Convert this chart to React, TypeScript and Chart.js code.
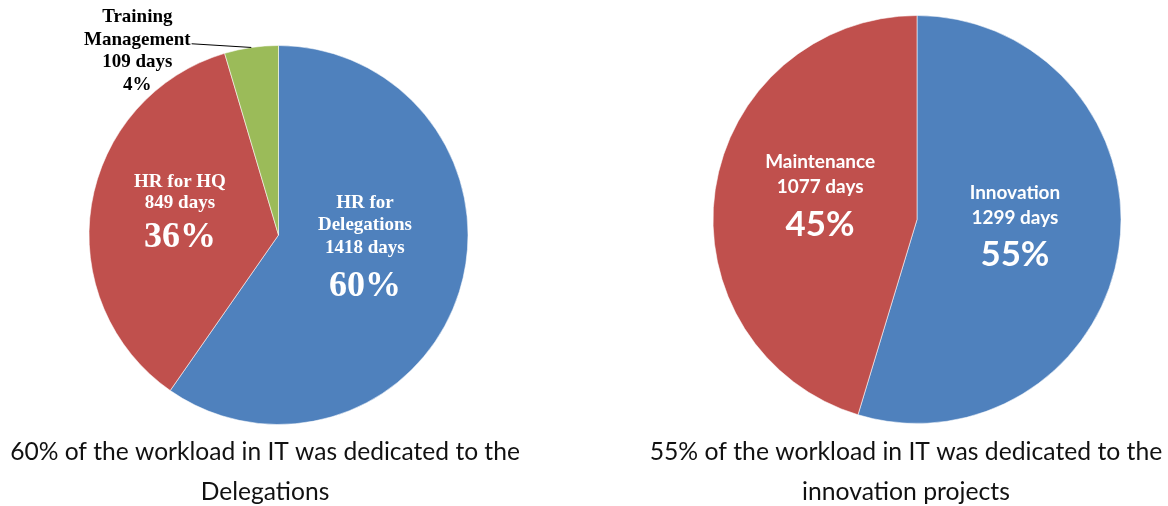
import React, { useEffect, useRef } from "react";
import { Chart, registerables } from "chart.js";

Chart.register(...registerables);

// ---------- data ----------
const leftCategories = ["HR for Delegations", "HR for HQ", "Training Management"];
const leftNameLines = [["HR for", "Delegations"], ["HR for HQ"], ["Training", "Management"]];
const leftDays = [1418, 849, 109];
const leftPercents = ["60%", "36%", "4%"];
const leftColors = ["#4F81BD", "#C0504D", "#9BBB59"];

const rightCategories = ["Innovation", "Maintenance"];
const rightNameLines = [["Innovation"], ["Maintenance"]];
const rightDays = [1299, 1077];
const rightPercents = ["55%", "45%"];
const rightColors = ["#4F81BD", "#C0504D"];

const leftCaption = ["60% of the workload in IT was dedicated to the", "Delegations"];
const rightCaption = ["55% of the workload in IT was dedicated to the", "innovation projects"];

// ---------- styles ----------
type SliceLabelStyle = {
  dx: number; // anchor offset, in units of radius
  dy: number;
  lineGap: number;
  bigGap: number;
  bigPercent: boolean;
  color: string;
  leaderLine?: number;
};

type PieSpec = {
  names: string[][];
  days: number[];
  percents: string[];
  family: string;
  smallSize: number | { text: string; width: number };
  bigSize: number | { text: string; width: number };
  slices: SliceLabelStyle[];
  caption: string[];
  captionX: number;
  captionY: number[];
  captionWidth: number;
};

function resolveSize(ctx: CanvasRenderingContext2D, weight: string, family: string, s: number | { text: string; width: number }) {
  if (typeof s === "number") return s;
  ctx.font = `${weight} 100px ${family}`;
  const w = ctx.measureText(s.text).width;
  return (100 * s.width) / w;
}

function makeLabelPlugin(spec: PieSpec) {
  return {
    id: "sliceLabels",
    afterDatasetsDraw(chart: any) {
      const ctx: CanvasRenderingContext2D = chart.ctx;
      const meta = chart.getDatasetMeta(0);
      const small = resolveSize(ctx, "bold", spec.family, spec.smallSize);
      const big = resolveSize(ctx, "bold", spec.family, spec.bigSize);
      ctx.save();
      ctx.textAlign = "center";
      ctx.textBaseline = "middle";
      meta.data.forEach((arc: any, i: number) => {
        const p = arc.getProps(["x", "y", "outerRadius", "startAngle", "endAngle"], true);
        const st = spec.slices[i];
        const ax = p.x + st.dx * p.outerRadius;
        const ay = p.y + st.dy * p.outerRadius;
        const lines = [...spec.names[i], `${spec.days[i]} days`];
        if (!st.bigPercent) lines.push(spec.percents[i]);
        ctx.fillStyle = st.color;
        ctx.font = `bold ${small}px ${spec.family}`;
        lines.forEach((t, k) => ctx.fillText(t, ax, ay + k * st.lineGap));
        if (st.bigPercent) {
          ctx.font = `bold ${big}px ${spec.family}`;
          ctx.fillText(spec.percents[i], ax, ay + (lines.length - 1) * st.lineGap + st.bigGap);
        }
        if (st.leaderLine !== undefined) {
          ctx.font = `bold ${small}px ${spec.family}`;
          const w = ctx.measureText(lines[st.leaderLine]).width;
          const sx = ax + w / 2 + 1;
          const sy = ay + st.leaderLine * st.lineGap + 4;
          const mid = (p.startAngle + p.endAngle) / 2;
          const ex = p.x + Math.cos(mid) * p.outerRadius;
          const ey = p.y + Math.sin(mid) * p.outerRadius;
          ctx.strokeStyle = "#000";
          ctx.lineWidth = 1;
          ctx.beginPath();
          ctx.moveTo(sx, sy);
          ctx.lineTo(ex, ey);
          ctx.stroke();
        }
      });
      // caption
      const capFamily = "Lato, 'Open Sans', sans-serif";
      ctx.font = `100px ${capFamily}`;
      const cw = ctx.measureText(spec.caption[0]).width;
      const capSize = (100 * spec.captionWidth) / cw;
      ctx.font = `${capSize}px ${capFamily}`;
      ctx.fillStyle = "#111";
      spec.caption.forEach((t, k) => ctx.fillText(t, spec.captionX, spec.captionY[k]));
      ctx.restore();
    },
  };
}

function PieChart(props: {
  labels: string[];
  values: number[];
  colors: string[];
  padding: { left: number; right: number; top: number; bottom: number };
  spec: PieSpec;
  left: number;
}) {
  const ref = useRef<HTMLCanvasElement | null>(null);
  useEffect(() => {
    if (!ref.current) return;
    const chart = new Chart(ref.current, {
      type: "pie",
      data: {
        labels: props.labels,
        datasets: [
          {
            data: props.values,
            backgroundColor: props.colors,
            borderColor: "rgba(255,255,255,0.55)",
            borderWidth: 1,
          },
        ],
      },
      options: {
        responsive: false,
        animation: false,
        layout: { padding: props.padding },
        plugins: { legend: { display: false }, tooltip: { enabled: false } },
        events: [],
      },
      plugins: [makeLabelPlugin(props.spec)],
    } as any);
    return () => chart.destroy();
  }, []);
  return (
    <canvas
      ref={ref}
      width={584}
      height={506}
      style={{ position: "absolute", left: props.left, top: 0, width: 584, height: 506 }}
    />
  );
}

const leftSpec: PieSpec = {
  names: leftNameLines,
  days: leftDays,
  percents: leftPercents,
  family: "'Liberation Serif', 'Times New Roman', serif",
  smallSize: 19,
  bigSize: 36,
  slices: [
    { dx: 0.456, dy: -0.169, lineGap: 22.5, bigGap: 39, bigPercent: true, color: "#fff" },
    { dx: -0.52, dy: -0.28, lineGap: 21, bigGap: 35, bigPercent: true, color: "#fff" },
    { dx: -0.745, dy: -1.15, lineGap: 22.7, bigGap: 0, bigPercent: false, color: "#000", leaderLine: 1 },
  ],
  caption: leftCaption,
  captionX: 265,
  captionY: [452, 492],
  captionWidth: 510,
};

const rightSpec: PieSpec = {
  names: rightNameLines,
  days: rightDays,
  percents: rightPercents,
  family: "Lato, 'Open Sans', sans-serif",
  smallSize: { text: "Maintenance", width: 110 },
  bigSize: { text: "45%", width: 69 },
  slices: [
    { dx: 0.48, dy: -0.13, lineGap: 25, bigGap: 37, bigPercent: true, color: "#fff" },
    { dx: -0.475, dy: -0.282, lineGap: 25, bigGap: 38, bigPercent: true, color: "#fff" },
  ],
  caption: rightCaption,
  captionX: 906 - 584,
  captionY: [452, 492],
  captionWidth: 513,
};

export default function App() {
  return (
    <div style={{ position: "fixed", left: 0, top: 0, width: 1168, height: 506, background: "#fff", overflow: "hidden" }}>
      <PieChart
        labels={leftCategories}
        values={leftDays}
        colors={leftColors}
        padding={{ left: 88.5, right: 115.5, top: 45, bottom: 81 }}
        spec={leftSpec}
        left={0}
      />
      <PieChart
        labels={rightCategories}
        values={rightDays}
        colors={rightColors}
        padding={{ left: 128.5, right: 46.5, top: 15, bottom: 82 }}
        spec={rightSpec}
        left={584}
      />
    </div>
  );
}
